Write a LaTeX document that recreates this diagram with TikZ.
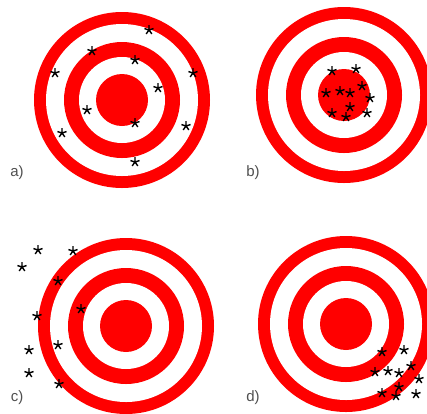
\documentclass[tikz,border=0pt]{standalone}
\usepackage{fontspec}
\setmainfont{Liberation Sans}
\usetikzlibrary{plotmarks}
\definecolor{tred}{RGB}{255,0,0}
\definecolor{lblgray}{RGB}{80,80,80}
\tikzset{
  hit/.style={mark=star, mark size=4.8pt, line width=1.4pt, black},
  panel/.style={text=lblgray, font=\fontsize{15}{17}\selectfont, inner sep=0pt}
}

\begin{document}
\begin{tikzpicture}[x=1pt, y=-1pt]
  \clip (0,0) rectangle (427,413);
  \fill[white] (0,0) rectangle (427,413);

  % the four targets
  \foreach \cx/\cy in {122/100, 344/95, 126/326, 346/324} {
    \fill[tred]  (\cx,\cy) circle (88);
    \fill[white] (\cx,\cy) circle (76);
    \fill[tred]  (\cx,\cy) circle (58);
    \fill[white] (\cx,\cy) circle (43);
    \fill[tred]  (\cx,\cy) circle (26);
  }

  % a) scattered
  \foreach \p in {(149,30), (92,51), (135,60), (55,73), (193,73), (158,88),
                  (87,110), (135,123), (186,126), (62,133), (135,162)}
    \draw[hit] plot coordinates {\p};
  % b) grouped in the centre
  \foreach \p in {(332,71), (356,69), (362,86), (326,93), (340,91), (350,93),
                  (370,98), (350,107), (332,113), (346,117), (367,113)}
    \draw[hit] plot coordinates {\p};
  % c) scattered off to the left
  \foreach \p in {(38,250), (22,267), (73,251), (58,281), (37,316), (81,309),
                  (29,350), (58,345), (29,373), (59,384)}
    \draw[hit] plot coordinates {\p};
  % d) grouped low right
  \foreach \p in {(382,352), (404,350), (375,372), (388,371), (399,373), (411,366),
                  (419,379), (382,393), (396,396), (399,387), (416,394)}
    \draw[hit] plot coordinates {\p};

  \node[panel] (lbla) at (17,173) {a)};
  \node[panel] (lblb) at (253,173) {b)};
  \node[panel] (lblc) at (17,398) {c)};
  \node[panel] (lbld) at (253,398) {d)};
\end{tikzpicture}
\end{document}
